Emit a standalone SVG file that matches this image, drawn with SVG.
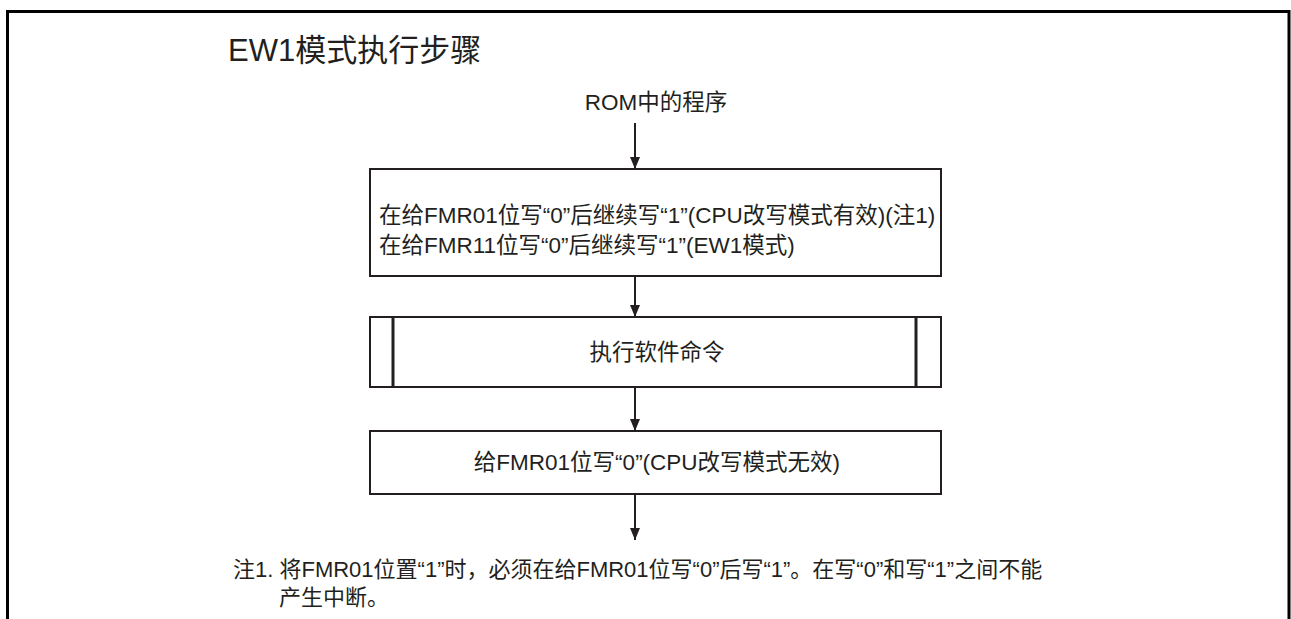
<svg xmlns="http://www.w3.org/2000/svg" width="1291" height="619" viewBox="0 0 1291 619">
<style>
text{font-family:"Liberation Sans","Noto Sans CJK SC",sans-serif;fill:#231f20}
.box{fill:#fff;stroke:#231f20;stroke-width:2}
.sub{stroke:#231f20;stroke-width:3}
.edge{stroke:#231f20;stroke-width:2;fill:none;marker-end:url(#ah)}
.t{font-size:22.5px}
.n{font-size:22px}
</style>
<defs>
<marker id="ah" markerWidth="12" markerHeight="10" refX="12" refY="5" orient="auto" markerUnits="userSpaceOnUse" viewBox="0 0 12 10">
<path d="M0,0 L12,5 L0,10 Z" fill="#231f20"/>
</marker>
</defs>
<rect width="1291" height="619" fill="#fff"/>
<path d="M7.5,619 V11.5 H1289 V619" fill="none" stroke="#000" stroke-width="3"/>
<text id="title" x="228" y="61" font-size="31">EW1模式执行步骤</text>
<g id="n0"><text class="t" x="656" y="110" text-anchor="middle">ROM中的程序</text></g>
<g id="n1">
<rect class="box" x="370" y="169" width="571" height="107"/>
<text class="t" x="379" y="223">在给FMR01位写“0”后继续写“1”(CPU改写模式有效)(注1)</text>
<text class="t" x="379" y="253">在给FMR11位写“0”后继续写“1”(EW1模式)</text>
</g>
<g id="n2">
<rect class="box" x="370" y="317" width="571" height="70"/>
<line class="sub" x1="393" y1="317" x2="393" y2="387"/>
<line class="sub" x1="916" y1="317" x2="916" y2="387"/>
<text class="t" x="657" y="360" text-anchor="middle">执行软件命令</text>
</g>
<g id="n3">
<rect class="box" x="370" y="431" width="571" height="63"/>
<text class="t" x="657" y="470" text-anchor="middle">给FMR01位写“0”(CPU改写模式无效)</text>
</g>
<g id="note">
<text class="n" x="233" y="577">注1. 将FMR01位置“1”时，必须在给FMR01位写“0”后写“1”。在写“0”和写“1”之间不能</text>
<text class="n" x="279" y="605">产生中断。</text>
</g>
<g id="connectors">
<line class="edge" x1="635" y1="123" x2="635" y2="169"/>
<line class="edge" x1="635" y1="276" x2="635" y2="317"/>
<line class="edge" x1="635" y1="387" x2="635" y2="431"/>
<line class="edge" x1="635" y1="494" x2="635" y2="540"/>
</g>
</svg>
